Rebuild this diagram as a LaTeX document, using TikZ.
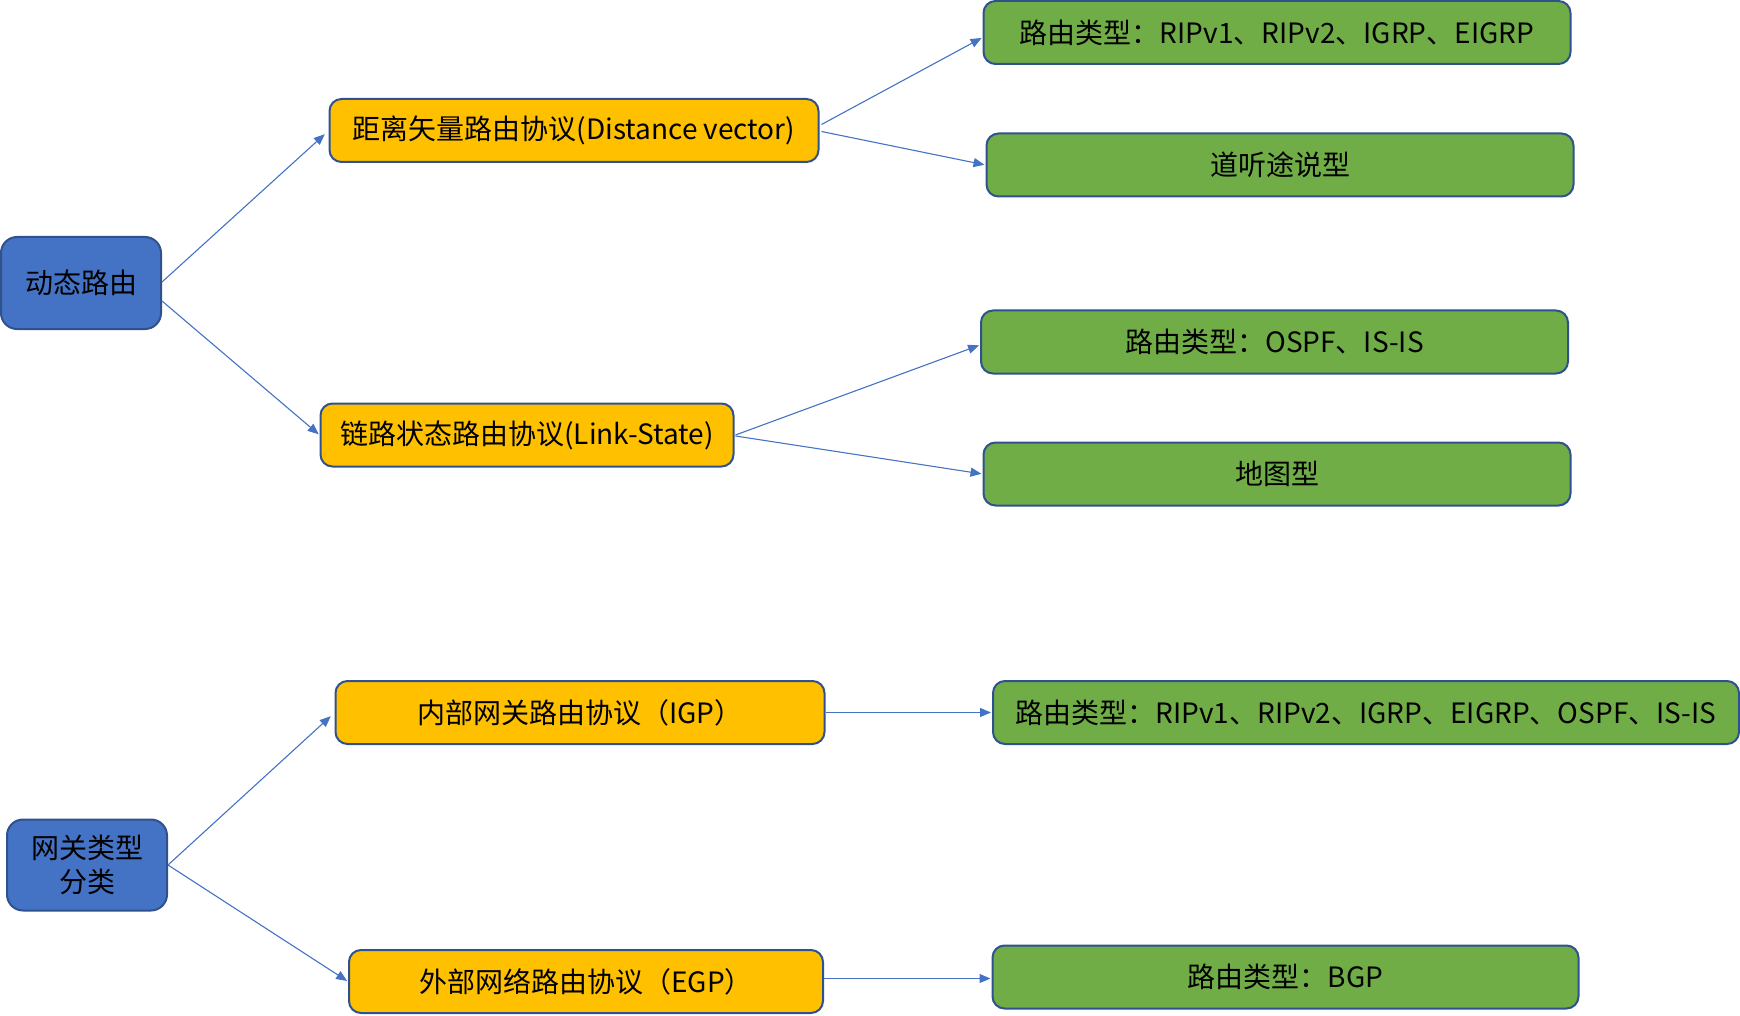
\documentclass[tikz,border=0pt]{standalone}
\usepackage{fontspec}
\setmainfont{Noto Sans CJK SC}
\usetikzlibrary{arrows.meta,calc}
\definecolor{bxblue}{HTML}{4472C4}
\definecolor{bxedge}{HTML}{2F528F}
\definecolor{bxorange}{HTML}{FFC000}
\definecolor{bxgreen}{HTML}{70AD47}
\definecolor{lnblue}{HTML}{4472C4}
\tikzset{
  basebox/.style={draw=bxedge, line width=2pt, rounded corners=12pt, inner sep=0pt,
    font=\fontsize{28}{34}\selectfont, text=black, align=center},
  rootbox/.style={basebox, fill=bxblue, rounded corners=16pt},
  midbox/.style={basebox, fill=bxorange},
  leafbox/.style={basebox, fill=bxgreen},
  conn/.style={draw=lnblue, line width=1.1pt, -{Triangle[length=11pt,width=9pt]}, shorten >=1pt}
}
\begin{document}
\begin{tikzpicture}[x=1pt,y=-1pt]
\useasboundingbox (0,0) rectangle (1740,1016);
% roots
\node[rootbox, minimum width=160pt, minimum height=92pt] (dyn) at (81,283) {动态路由};
\node[rootbox, minimum width=160pt, minimum height=91pt] (gw) at (87,865) {网关类型\\分类};
% mid
\node[midbox, minimum width=489pt, minimum height=63pt] (dv) at (574,130.5) {距离矢量路由协议(Distance vector)};
\node[midbox, minimum width=413pt, minimum height=63pt] (ls) at (527,435) {链路状态路由协议(Link-State)};
\node[midbox, minimum width=489pt, minimum height=63pt] (igp) at (580,712.5) {内部网关路由协议（IGP）};
\node[midbox, minimum width=474pt, minimum height=63pt] (egp) at (586,981.5) {外部网络路由协议（EGP）};
% leaves
\node[leafbox, minimum width=587pt, minimum height=63pt] (l1) at (1277,32.5) {路由类型：RIPv1、RIPv2、IGRP、EIGRP};
\node[leafbox, minimum width=587pt, minimum height=63pt] (l2) at (1280,165) {道听途说型};
\node[leafbox, minimum width=587pt, minimum height=63pt] (l3) at (1274.5,342) {路由类型：OSPF、IS-IS};
\node[leafbox, minimum width=587pt, minimum height=63pt] (l4) at (1277,474) {地图型};
\node[leafbox, minimum width=746pt, minimum height=63pt] (l5) at (1366,712.5) {路由类型：RIPv1、RIPv2、IGRP、EIGRP、OSPF、IS-IS};
\node[leafbox, minimum width=586pt, minimum height=63pt] (l6) at (1285.5,977) {路由类型：BGP};
% connectors
\draw[conn] ($(dyn.east)+(0,-1)$) -- ($(dv.west)+(-3,3)$);
\draw[conn] ($(dyn.east)+(0,18)$) -- ($(ls.west)+(0,0)$);
\draw[conn] ($(dv.east)+(2,-6)$) -- ($(l1.west)+(0,5)$);
\draw[conn] ($(dv.east)+(2,1)$) -- (l2.west);
\draw[conn] ($(ls.east)+(1,0)$) -- ($(l3.west)+(0,3)$);
\draw[conn] ($(ls.east)+(1,1)$) -- (l4.west);
\draw[conn] (gw.east) -- ($(igp.west)+(-3,3)$);
\draw[conn] (gw.east) -- (egp.west);
\draw[conn] (igp.east) -- (l5.west);
\draw[conn] ($(egp.east)+(0,-3)$) -- ($(l6.west)+(0,1.5)$);
\end{tikzpicture}
\end{document}
